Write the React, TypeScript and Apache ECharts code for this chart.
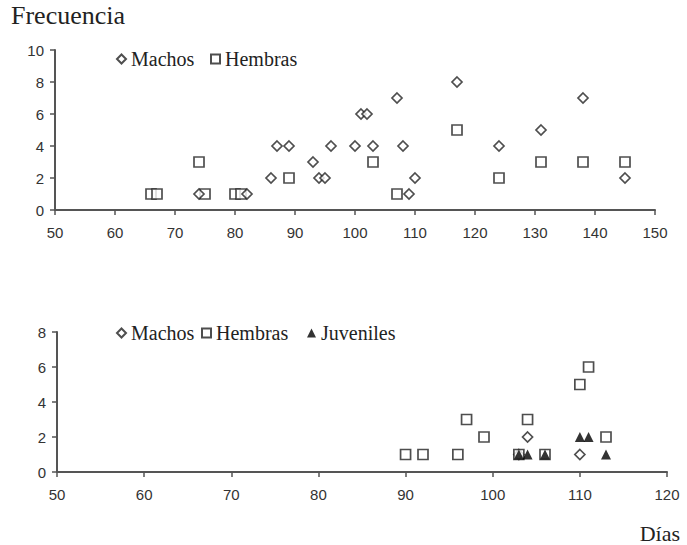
import React, { useEffect, useRef } from "react";
import * as echarts from "echarts";

const topMachos: [number, number][] = [
  [74, 1], [82, 1], [86, 2], [87, 4], [89, 4], [93, 3], [94, 2], [95, 2], [96, 4],
  [100, 4], [101, 6], [102, 6], [103, 4], [107, 7], [108, 4], [109, 1], [110, 2],
  [117, 8], [124, 4], [131, 5], [138, 7], [145, 2],
];
const topHembras: [number, number][] = [
  [66, 1], [67, 1], [74, 3], [75, 1], [80, 1], [81, 1], [89, 2], [103, 3],
  [107, 1], [117, 5], [124, 2], [131, 3], [138, 3], [145, 3],
];
const botMachos: [number, number][] = [[104, 2], [110, 1], [103, 1]];
const botHembras: [number, number][] = [
  [90, 1], [92, 1], [96, 1], [97, 3], [99, 2], [103, 1], [104, 3], [106, 1],
  [110, 5], [111, 6], [113, 2],
];
const botJuveniles: [number, number][] = [
  [103, 1], [104, 1], [106, 1], [110, 2], [111, 2], [113, 1],
];

const SERIF = "'Liberation Serif', 'DejaVu Serif', serif";
const SANS = "'Liberation Sans', Arial, sans-serif";
const AXIS_COLOR = "#555";

const xAxisBase = (gridIndex: number, max: number) => ({
  type: "value" as const,
  gridIndex,
  min: 50,
  max,
  interval: 10,
  axisLine: { show: true, onZero: false, lineStyle: { color: AXIS_COLOR, width: 2 } },
  axisTick: { show: true, length: 5, lineStyle: { color: AXIS_COLOR, width: 1.5 } },
  axisLabel: { color: "#333", fontFamily: SANS, fontSize: 15, margin: 15 },
  splitLine: { show: false },
});
const yAxisBase = (gridIndex: number, max: number) => ({
  type: "value" as const,
  gridIndex,
  min: 0,
  max,
  interval: 2,
  axisLine: { show: true, onZero: false, lineStyle: { color: AXIS_COLOR, width: 2 } },
  axisTick: { show: true, length: 5, lineStyle: { color: AXIS_COLOR, width: 1.5 } },
  axisLabel: { color: "#333", fontFamily: SANS, fontSize: 15, margin: 11 },
  splitLine: { show: false },
});

const hollow = { color: "#fff", borderColor: "#222", borderWidth: 1.7 };
const legendText = { fontFamily: SERIF, fontSize: 20, color: "#222" };
const legendItem = (name: string, left: number, top: number) => ({
  data: [name],
  left,
  top,
  padding: 0,
  itemWidth: 9,
  itemHeight: 9,
  textStyle: legendText,
});

export default function App() {
  const ref = useRef<HTMLDivElement>(null);
  useEffect(() => {
    if (!ref.current) return;
    const chart = echarts.init(ref.current, undefined, { renderer: "svg" });
    chart.setOption({
      animation: false,
      backgroundColor: "#fff",
      title: [
        {
          text: "Frecuencia",
          left: 11,
          top: 2,
          padding: 0,
          textStyle: { fontFamily: SERIF, fontSize: 26, fontWeight: "normal", color: "#222" },
        },
        {
          text: "Días",
          right: 7,
          top: 522,
          padding: 0,
          textStyle: { fontFamily: SERIF, fontSize: 22, fontWeight: "normal", color: "#222" },
        },
      ],
      legend: [
        legendItem("Machos", 116, 49),
        legendItem("Hembras", 210, 49),
        legendItem("Machos", 116, 323),
        legendItem("Hembras", 201, 323),
        legendItem("Juveniles", 307, 323),
      ],
      grid: [
        { left: 55, top: 50, width: 600, height: 160 },
        { left: 57, top: 332, width: 610, height: 140 },
      ],
      xAxis: [xAxisBase(0, 150), xAxisBase(1, 120)],
      yAxis: [yAxisBase(0, 10), yAxisBase(1, 8)],
      series: [
        {
          name: "Machos",
          type: "scatter",
          xAxisIndex: 0,
          yAxisIndex: 0,
          symbol: "diamond",
          symbolSize: 10,
          itemStyle: hollow,
          data: topMachos,
          z: 3,
        },
        {
          name: "Hembras",
          type: "scatter",
          xAxisIndex: 0,
          yAxisIndex: 0,
          symbol: "rect",
          symbolSize: 10,
          itemStyle: hollow,
          data: topHembras,
          z: 2,
        },
        {
          name: "Machos",
          type: "scatter",
          xAxisIndex: 1,
          yAxisIndex: 1,
          symbol: "diamond",
          symbolSize: 10,
          itemStyle: hollow,
          data: botMachos,
          z: 2,
        },
        {
          name: "Hembras",
          type: "scatter",
          xAxisIndex: 1,
          yAxisIndex: 1,
          symbol: "rect",
          symbolSize: 10,
          itemStyle: hollow,
          data: botHembras,
          z: 3,
        },
        {
          name: "Juveniles",
          type: "scatter",
          xAxisIndex: 1,
          yAxisIndex: 1,
          symbol: "triangle",
          symbolSize: 10,
          itemStyle: { color: "#000" },
          data: botJuveniles,
          z: 4,
        },
      ],
    });
    return () => chart.dispose();
  }, []);
  return (
    <div
      ref={ref}
      style={{ position: "fixed", left: 0, top: 0, width: 687, height: 545, background: "#fff" }}
    />
  );
}
